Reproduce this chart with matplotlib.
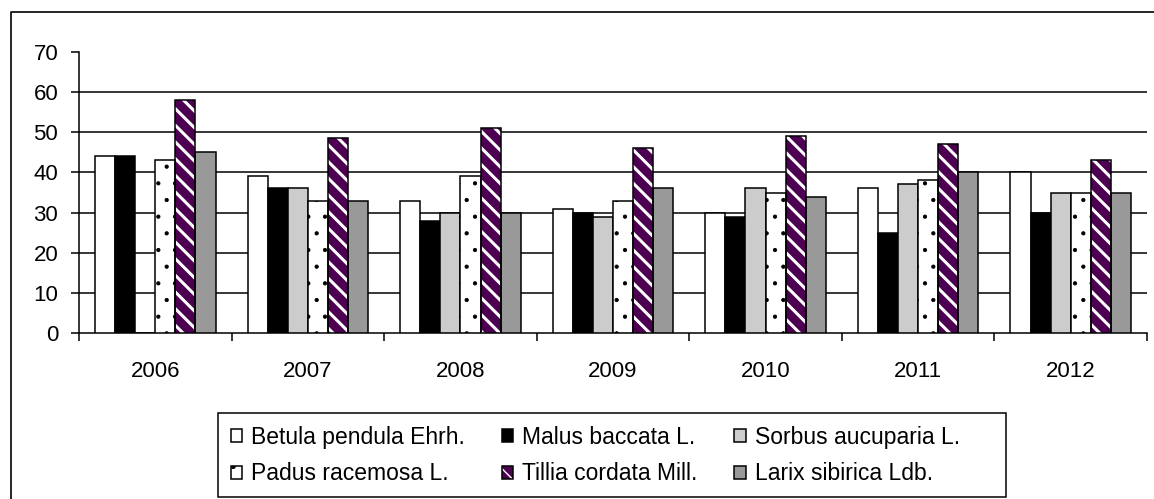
import numpy as np
import matplotlib
matplotlib.use("Agg")
import matplotlib.pyplot as plt
from matplotlib.lines import Line2D
from matplotlib.patches import Rectangle
from matplotlib.legend_handler import HandlerTuple

plt.rcParams['font.family'] = ['Liberation Sans', 'DejaVu Sans']

years = ['2006', '2007', '2008', '2009', '2010', '2011', '2012']
species = ['Betula pendula Ehrh.', 'Malus baccata L.', 'Sorbus aucuparia L.',
           'Padus racemosa L.', 'Tillia cordata Mill.', 'Larix sibirica Ldb.']

betula = [44, 39, 33, 31, 30, 36, 40]
malus = [44, 36, 28, 30, 29, 25, 30]
sorbus = [0, 36, 30, 29, 36, 37, 35]
padus = [43, 33, 39, 33, 35, 38, 35]
tillia = [58, 48.5, 51, 46, 49, 47, 43]
larix = [45, 33, 30, 36, 34, 40, 35]

series = [betula, malus, sorbus, padus, tillia, larix]
# face colour, hatch colour, hatch, hatch width
styles = [
    ('white', 'black', None, 0),
    ('black', 'black', None, 0),
    ('#cccccc', 'black', None, 0),
    ('white', 'black', '.', 0.6),
    ('#4d0052', 'white', '\\\\', 2.2),
    ('#999999', 'black', None, 0),
]

fig = plt.figure(figsize=(11.54, 4.99), dpi=100)
ax = fig.add_axes([79/1154, 1-333/499, (1147-79)/1154, (333-52)/499])

x = np.arange(len(years))
n = len(series)
bw = 0.79 / n

handles = []
for i, (vals, (fc, hc, hatch, hlw)) in enumerate(zip(series, styles)):
    pos = x - 0.395 + bw*(i + 0.5)
    if hatch:
        # hatch drawn under a separate black outline so the stripes can be white
        with plt.rc_context({'hatch.linewidth': hlw}):
            filled = ax.bar(pos, vals, bw, color=fc, edgecolor=hc, hatch=hatch,
                            linewidth=0, zorder=3)
        outline = ax.bar(pos, vals, bw, fill=False, edgecolor='black',
                         linewidth=1.1, zorder=4)
        handles.append((filled[0], outline[0]))
    else:
        b = ax.bar(pos, vals, bw, color=fc, edgecolor='black', linewidth=1.1, zorder=3)
        handles.append(b[0])

ax.set_xlim(-0.5, len(years) - 0.5)
ax.set_ylim(0, 70)
ax.set_yticks(range(0, 71, 10))
for yv in range(10, 70, 10):
    ax.axhline(yv, color='black', linewidth=1.1, zorder=1)

ax.set_xticks(x)
ax.set_xticklabels(years)
ax.set_xticks(np.arange(-0.5, len(years)), minor=True)
ax.tick_params(axis='x', which='major', length=0, pad=20, labelsize=16)
ax.tick_params(axis='x', which='minor', length=6, width=1.1, direction='out')
ax.tick_params(axis='y', length=6, width=1.1, direction='out', pad=9, labelsize=16)

for s in ['top', 'right']:
    ax.spines[s].set_visible(False)
for s in ['left', 'bottom']:
    ax.spines[s].set_linewidth(1.1)

order = [0, 3, 1, 4, 2, 5]
leg = fig.legend([handles[k] for k in order], [species[k] for k in order],
                 ncol=3, loc='upper left', bbox_to_anchor=(218/1154, 1-413/499),
                 bbox_transform=fig.transFigure, fontsize=16.5, frameon=False,
                 handlelength=0.5, handleheight=0.5, handletextpad=0.4,
                 columnspacing=1.6, labelspacing=0.6, borderpad=0.55,
                 borderaxespad=0,
                 handler_map={tuple: HandlerTuple(ndivide=1, pad=0)})

# legend frame and outer chart frame
fig.add_artist(Rectangle((218/1154, 1-497/499), (1006-218)/1154, (497-413)/499,
                         transform=fig.transFigure, fill=False,
                         edgecolor='black', linewidth=1.1))
fig.add_artist(Line2D([11/1154, 11/1154, 1.0], [0.0, 1-12/499, 1-12/499],
                      transform=fig.transFigure, color='black', linewidth=1.2))

fig.savefig('out.png', dpi=100)
